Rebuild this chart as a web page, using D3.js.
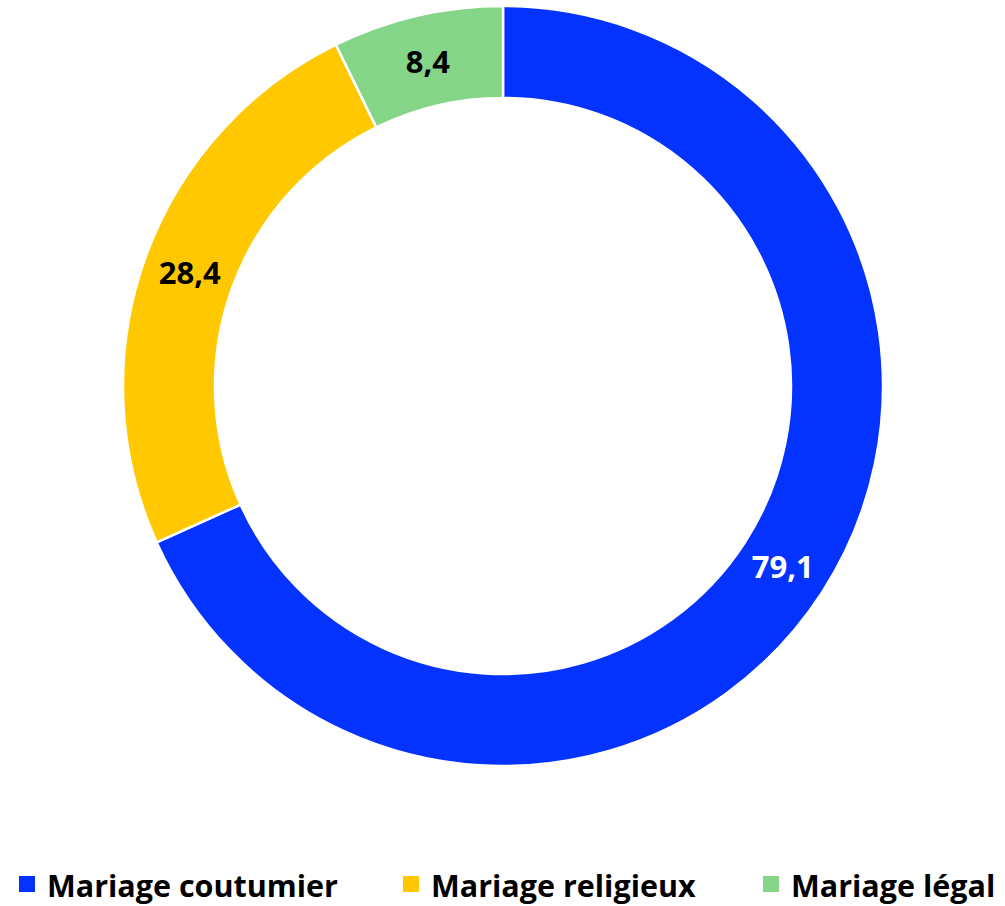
<!DOCTYPE html>
<html>
<head>
<meta charset="utf-8">
<script src="https://cdn.jsdelivr.net/npm/d3@7"></script>
<style>
 body { margin: 0; background: #fff; }
 text { font-family: "Open Sans", sans-serif; font-weight: bold; }
</style>
</head>
<body>
<script>
// categories and values (%)
var categories = ["Mariage coutumier", "Mariage religieux", "Mariage légal"];
var values = [79.1, 28.4, 8.4];
var labels = ["79,1", "28,4", "8,4"];
var colors = ["#0433FF", "#FFC800", "#84D587"];
var labelColors = ["#ffffff", "#000000", "#000000"];

var width = 1005, height = 906;
var cx = 503, cy = 386;
var outerR = 380, innerR = 288;

var svg = d3.select("body").append("svg")
  .attr("width", width)
  .attr("height", height);

var g = svg.append("g")
  .attr("transform", "translate(" + cx + "," + cy + ")");

var pie = d3.pie().sort(null).value(function(d) { return d; });
var arcs = pie(values);

var arc = d3.arc().innerRadius(innerR).outerRadius(outerR);
var labelArc = d3.arc().innerRadius(innerR + 45).outerRadius(innerR + 45);

// slices
g.selectAll("path.slice")
  .data(arcs)
  .enter().append("path")
  .attr("class", "slice")
  .attr("d", arc)
  .attr("fill", function(d, i) { return colors[i]; })
  .attr("stroke", "#fff")
  .attr("stroke-width", 2.5);

// data labels
g.selectAll("text.lbl")
  .data(arcs)
  .enter().append("text")
  .attr("class", "lbl")
  .attr("transform", function(d) {
    var c = labelArc.centroid(d);
    return "translate(" + c[0] + "," + c[1] + ")";
  })
  .attr("text-anchor", "middle")
  .attr("dy", "0.36em")
  .style("font-size", "31px")
  .attr("fill", function(d, i) { return labelColors[i]; })
  .text(function(d, i) { return labels[i]; });

// legend
var legendX = [19, 403, 763];
var legend = svg.selectAll("g.legend")
  .data(categories)
  .enter().append("g")
  .attr("class", "legend")
  .attr("transform", function(d, i) { return "translate(" + legendX[i] + ",876)"; });

legend.append("rect")
  .attr("width", 16)
  .attr("height", 16)
  .attr("fill", function(d, i) { return colors[i]; });

legend.append("text")
  .attr("x", 28)
  .attr("y", 21)
  .style("font-size", "30.5px")
  .attr("fill", "#000")
  .text(function(d) { return d; });
</script>
</body>
</html>
